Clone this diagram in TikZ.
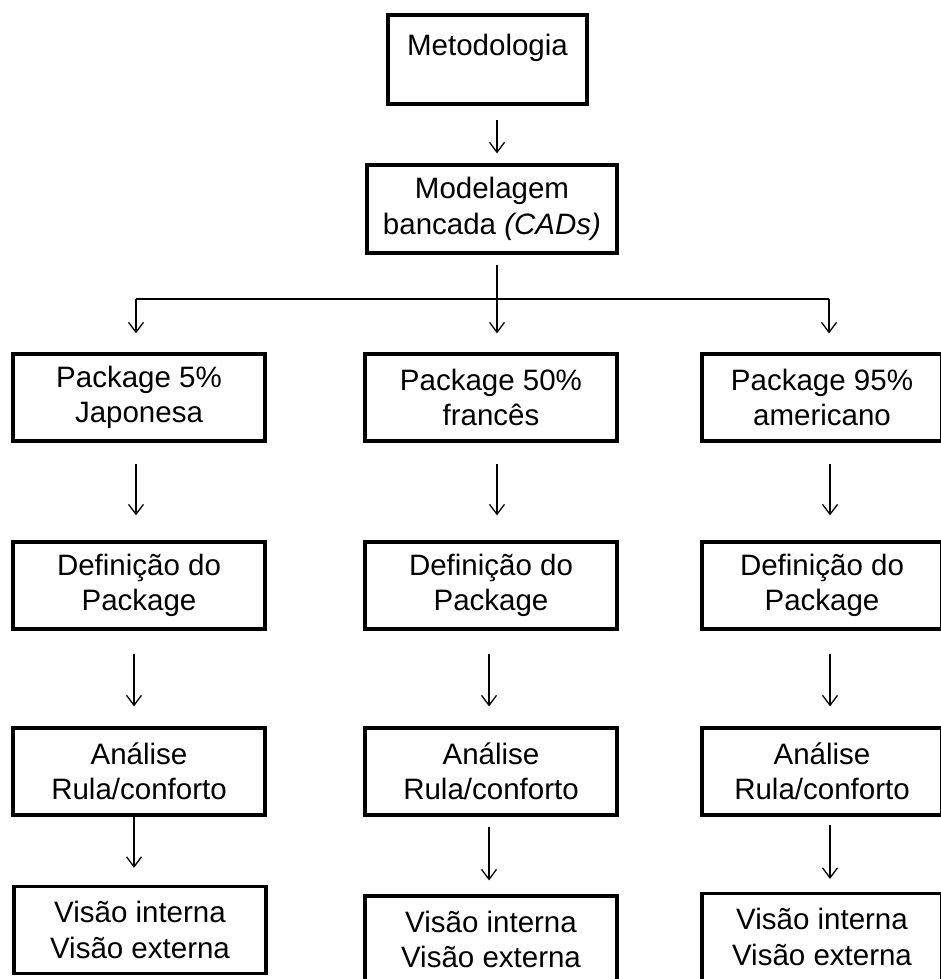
\documentclass[tikz,border=0pt]{standalone}
\usepackage{fontspec}
\setmainfont{Liberation Sans}
\usetikzlibrary{arrows.meta}
\begin{document}
\begin{tikzpicture}[x=1pt,y=-1pt,
  box/.style={draw=black,line width=3.2pt,minimum height=87pt,inner sep=0pt,align=center,
    font=\fontsize{29.5}{35.5}\selectfont},
  conn/.style={draw=black,line width=1.3pt},
  arr/.style={conn,-{Straight Barb[length=10pt,width=15pt,line width=1.3pt]}}]
\useasboundingbox (0,0) rectangle (941,979);
\clip (0,0) rectangle (941,979);
\fill[white] (0,0) rectangle (941,979);
% top
\node[box,minimum width=199pt,minimum height=89pt] (metod) at (487.5,59.5) {Metodologia\\[-7pt]~};
\node[box,minimum width=250pt,minimum height=88pt] (model) at (492,209) {Modelagem\\bancada \textit{(CADs)}};
% columns
\node[box,minimum width=252pt] (pkgL) at (139,397.5) {Package 5\%\\Japonesa};
\node[box,minimum width=252pt] (pkgM) at (491,397.5) {Package 50\%\\francês};
\node[box,minimum width=240pt] (pkgR) at (822,397.5) {Package 95\%\\americano};
\node[box,minimum width=252pt] (defL) at (139,585.5) {Definição do\\Package};
\node[box,minimum width=252pt] (defM) at (491,585.5) {Definição do\\Package};
\node[box,minimum width=240pt] (defR) at (822,585.5) {Definição do\\Package};
\node[box,minimum width=252pt] (anaL) at (139,771.5) {Análise\\Rula/conforto};
\node[box,minimum width=252pt] (anaM) at (491,771.5) {Análise\\Rula/conforto};
\node[box,minimum width=240pt] (anaR) at (822,771.5) {Análise\\Rula/conforto};
\node[box,minimum width=252pt] (visL) at (140,930) {Visão interna\\Visão externa};
\node[box,minimum width=252pt] (visM) at (491,939.5) {Visão interna\\Visão externa};
\node[box,minimum width=240pt] (visR) at (822,937) {Visão interna\\Visão externa};
% top connectors
\draw[arr] ([xshift=9.5pt,yshift=-14pt]metod.south) -- ([xshift=5pt,yshift=10pt]model.north);
\coordinate (split) at (497,299);
\coordinate (brL) at (136,299);
\coordinate (brR) at (829,299);
\draw[conn] ([xshift=5pt,yshift=-10pt]model.south) -- (split);
\draw[conn] (brL) -- (brR);
\draw[arr] (brL) -- ([yshift=19pt]pkgL.north -| brL);
\draw[arr] (split) -- ([yshift=19pt]pkgM.north -| split);
\draw[arr] (brR) -- ([yshift=19pt]pkgR.north -| brR);
% left column
\draw[arr] ([xshift=-3pt,yshift=-21pt]pkgL.south) -- ([xshift=-3pt,yshift=25pt]defL.north);
\draw[arr] ([xshift=-5pt,yshift=-23pt]defL.south) -- ([xshift=-5pt,yshift=20pt]anaL.north);
\draw[arr] ([xshift=-5pt,yshift=0pt]anaL.south) -- ([xshift=-6pt,yshift=17pt]visL.north);
% middle column
\draw[arr] ([xshift=6pt,yshift=-21pt]pkgM.south) -- ([xshift=6pt,yshift=25pt]defM.north);
\draw[arr] ([xshift=-2pt,yshift=-23pt]defM.south) -- ([xshift=-2pt,yshift=20pt]anaM.north);
\draw[arr] ([xshift=-2pt,yshift=-10pt]anaM.south) -- ([xshift=-2pt,yshift=14pt]visM.north);
% right column
\draw[arr] ([xshift=8pt,yshift=-21pt]pkgR.south) -- ([xshift=8pt,yshift=25pt]defR.north);
\draw[arr] ([xshift=8pt,yshift=-23pt]defR.south) -- ([xshift=8pt,yshift=20pt]anaR.north);
\draw[arr] ([xshift=8pt,yshift=-8pt]anaR.south) -- ([xshift=8pt,yshift=13pt]visR.north);
\end{tikzpicture}
\end{document}
